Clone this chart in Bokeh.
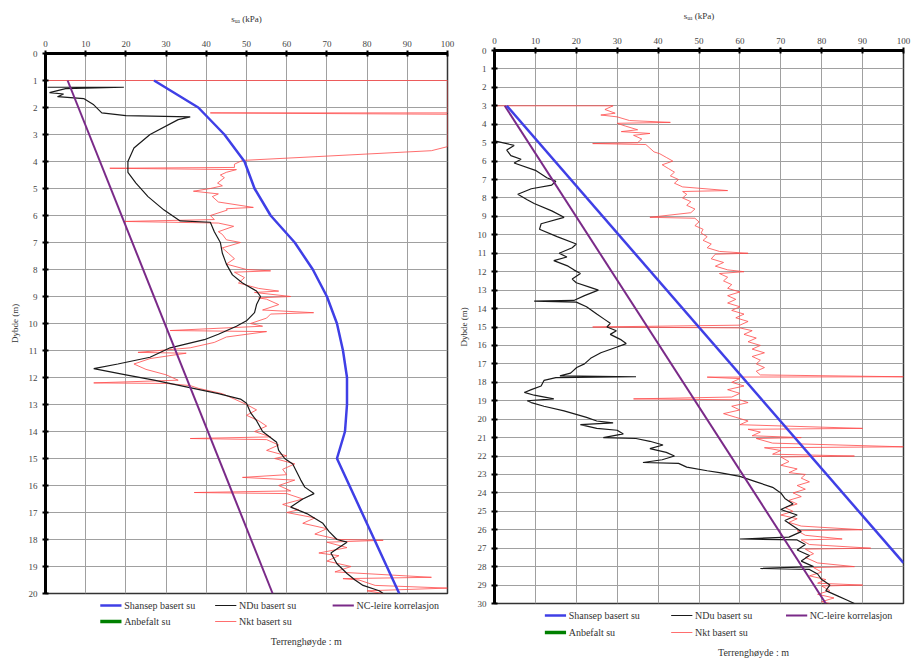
from bokeh.plotting import figure
from bokeh.models import Range1d, FixedTicker, Label
from bokeh.layouts import row, column
from bokeh.embed import file_html
from bokeh.resources import INLINE

FONT = "Liberation Serif"

# ---------------- data: left borehole (0-20 m) ----------------
x_ticks = [0, 10, 20, 30, 40, 50, 60, 70, 80, 90, 100]
depth_ticks_L = list(range(0, 21))
depth_ticks_R = list(range(0, 31))

shansep_L_depth = [1, 2, 3, 4, 5, 6, 7, 8, 9, 10, 11, 12, 13, 14, 15, 16, 17, 18, 19, 20]
shansep_L_su = [27, 38, 44.5, 49.5, 52, 56, 62, 66.5, 70, 72.5, 74, 75, 75, 74.5, 72.5, 75.6, 78.7, 81.8, 84.9, 88]

nc_L_depth = [1, 20]
nc_L_su = [5.5, 56.5]

ndu_L_depth = [1.25, 1.25, 1.3, 1.45, 1.5, 1.6, 1.67, 1.9, 2.2, 2.3, 2.35, 2.45, 3.0, 3.5, 4.0, 4.4, 4.8, 5.3, 5.8, 6.1,
               6.2, 6.25, 6.6, 7.0, 7.4, 7.8, 8.2, 8.5, 8.8, 9.0, 9.3, 9.6, 9.9, 10.1, 10.4, 10.6, 10.9, 11.25, 11.5, 11.67,
               11.9, 12.1, 12.35, 12.6, 12.8, 12.95, 13.3, 13.6, 14.0, 14.4, 14.7, 15.0, 15.2, 15.5, 15.8, 16.06, 16.3, 16.5, 16.8, 17.04,
               17.4, 17.7, 18.0, 18.1, 18.3, 18.5, 18.9, 19.26, 19.5, 19.7, 19.9, 20.0]
ndu_L_su = [0.5, 19.5, 5, 1, 4.5, 3, 9.5, 12, 14, 20, 36, 33, 26, 22, 20.5, 20.5, 22.5, 25.5, 29.5, 32.5,
            33.5, 41, 42, 43.5, 44, 45, 46.5, 49, 52.5, 53.5, 52.5, 52, 50, 47.5, 43, 39.5, 31, 26, 18, 12,
            20, 27, 35, 43, 48.5, 50, 51, 52.5, 54, 57.5, 58, 59.5, 61.5, 62.5, 63.5, 64.5, 66.8, 64, 61, 65,
            69, 70.5, 72.5, 75, 73, 71, 72.5, 75, 77, 79, 83, 84]

nkt_L_depth = [1.0, 1.0, 2.2, 2.2, 2.25, 3.45, 3.6, 3.8, 3.96, 4.1, 4.22, 4.25, 4.3, 4.4, 4.5, 4.6, 4.8, 4.9, 5.0, 5.1,
               5.2, 5.3, 5.5, 5.7, 5.75, 5.8, 6.0, 6.15, 6.22, 6.28, 6.4, 6.6, 6.7, 6.9, 7.0, 7.2, 7.4, 7.6, 7.8, 8.0,
               8.05, 8.1, 8.3, 8.5, 8.7, 8.8, 8.85, 9.0, 9.05, 9.1, 9.3, 9.5, 9.6, 9.65, 9.8, 10.0, 10.1, 10.26, 10.3, 10.5,
               10.7, 10.9, 11.07, 11.1, 11.3, 11.5, 11.7, 11.9, 12.1, 12.2, 12.22, 12.3, 12.4, 12.6, 12.8, 13.0, 13.2, 13.4, 13.6, 13.8,
               14.0, 14.2, 14.26, 14.3, 14.5, 14.7, 14.9, 15.0, 15.2, 15.4, 15.6, 15.7, 15.8, 16.0, 16.2, 16.26, 16.3, 16.5, 16.7, 16.9,
               17.0, 17.2, 17.4, 17.6, 17.8, 18.0, 18.03, 18.1, 18.3, 18.5, 18.6, 18.8, 19.0, 19.2, 19.4, 19.45, 19.5, 19.7, 19.8, 19.9,
               20.0]
nkt_L_su = [0, 100, 100, 41, 100, 100, 96, 70, 49, 47, 47, 16, 47.5, 45, 43.5, 44.5, 42.8, 44, 41, 36.8,
            43, 41.5, 43, 51.7, 45, 45.2, 41, 42, 19.5, 43, 46.8, 43, 44, 45, 48.5, 44, 45.5, 47, 45, 50,
            56, 47, 49.5, 48, 53, 58, 52, 61, 53, 55, 58, 54, 66.7, 56, 55, 51, 54, 31, 55, 45,
            42, 36, 23, 35, 26, 22, 25, 30, 33, 12, 30, 36, 38, 44, 47, 50, 52.5, 50, 53, 55,
            52, 56, 36, 55, 58, 55, 60, 57, 62, 59, 60, 49, 62, 58, 61, 37, 60, 64, 59, 63,
            60, 67, 64, 70, 67, 73, 84, 70, 75, 68, 73, 70, 76, 72, 96, 74, 78, 82, 100, 80,
            84]

# ---------------- data: right borehole (0-30 m) ----------------
shansep_R_depth = [3, 27.8]
shansep_R_su = [3, 100]

nc_R_depth = [3, 30]
nc_R_su = [2.5, 81]

ndu_R_depth = [4.9, 5.15, 5.4, 5.7, 5.9, 6.1, 6.5, 6.9, 7.1, 7.3, 7.5, 7.8, 8.1, 8.3, 8.7, 9.05, 9.4, 9.7, 10.1, 10.5,
               10.7, 11.0, 11.2, 11.4, 11.7, 11.9, 12.1, 12.4, 12.6, 12.85, 13.0, 13.3, 13.56, 13.6, 13.65, 13.9, 14.3, 14.6, 14.8, 15.0,
               15.2, 15.4, 15.7, 15.9, 16.1, 16.4, 16.7, 17.0, 17.2, 17.5, 17.65, 17.7, 17.75, 17.9, 18.2, 18.4, 18.55, 18.7, 18.9, 19.0,
               19.1, 19.3, 19.55, 19.9, 20.1, 20.2, 20.3, 20.5, 20.6, 20.8, 21.0, 21.05, 21.2, 21.4, 21.6, 21.8, 22.0, 22.2, 22.35, 22.4,
               22.6, 22.8, 22.9, 23.1, 23.4, 23.7, 24.0, 24.3, 24.6, 24.9, 25.2, 25.5, 25.8, 26.1, 26.4, 26.5, 26.55, 26.8, 27.1, 27.4,
               27.7, 28.0, 28.1, 28.15, 28.4, 28.7, 29.0, 29.3, 29.6, 29.8, 30.0]
ndu_R_su = [0, 4.8, 3, 4, 6.5, 4.8, 10, 12.8, 15, 14, 9, 5.7, 8, 9.7, 14, 17, 11.4, 11, 15.3, 20,
            19, 15.8, 17.7, 14.5, 18, 19.4, 21, 19, 20, 23.4, 25.4, 22, 19.4, 9.7, 20, 22.5, 25, 27, 28.3, 27.5,
            29.8, 28.3, 31, 32.2, 29.8, 26, 23.5, 22, 20.1, 18.6, 16, 34.6, 15, 12.1, 11.4, 9, 7.3, 9.7, 14.5, 8,
            9, 12.1, 17, 22.5, 25, 29, 21, 25, 30, 31.5, 26.6, 34.6, 38, 41.2, 38, 42, 44, 41, 36.3, 45,
            47, 52, 55, 60, 64, 68, 70, 71, 73, 70, 74, 71, 73, 75, 72, 60, 74, 76, 74, 77,
            75, 78, 65, 77, 79, 80, 82, 81, 84, 86, 88]

nkt_R_depth = [3.0, 3.0, 3.2, 3.4, 3.5, 3.6, 3.8, 3.9, 3.95, 4.1, 4.3, 4.4, 4.5, 4.6, 4.8, 5.0, 5.05, 5.1, 5.3, 5.5,
               5.6, 5.8, 6.0, 6.2, 6.4, 6.6, 6.8, 7.0, 7.2, 7.4, 7.6, 7.65, 7.8, 8.0, 8.2, 8.4, 8.6, 8.8, 9.05, 9.1,
               9.3, 9.5, 9.7, 9.9, 10.1, 10.3, 10.5, 10.7, 10.9, 11.0, 11.05, 11.3, 11.5, 11.7, 11.9, 12.0, 12.1, 12.3, 12.5, 12.7,
               12.9, 13.1, 13.3, 13.5, 13.7, 13.9, 14.1, 14.3, 14.5, 14.7, 14.9, 15.0, 15.05, 15.2, 15.4, 15.6, 15.8, 16.0, 16.2, 16.4,
               16.6, 16.8, 17.0, 17.2, 17.4, 17.6, 17.7, 17.72, 17.8, 18.0, 18.2, 18.4, 18.6, 18.8, 18.9, 18.95, 19.1, 19.3, 19.5, 19.7,
               19.9, 20.1, 20.3, 20.5, 20.55, 20.7, 20.9, 21.0, 21.05, 21.3, 21.5, 21.55, 21.7, 21.9, 22.0, 22.05, 22.3, 22.5, 22.7, 22.9,
               23.0, 23.2, 23.4, 23.6, 23.8, 24.0, 24.2, 24.4, 24.6, 24.8, 25.0, 25.2, 25.4, 25.6, 25.8, 26.0, 26.05, 26.3, 26.5, 26.55,
               26.8, 27.0, 27.05, 27.3, 27.5, 27.8, 28.0, 28.05, 28.3, 28.5, 28.7, 28.9, 29.0, 29.05, 29.3, 29.5, 29.7, 29.9, 30.0]
nkt_R_su = [0, 29, 27, 29.5, 26, 30, 33, 43, 30, 32, 35, 31, 38, 34, 36, 35, 24, 37, 38, 39,
            40.4, 42, 43.6, 41, 42.5, 44, 43, 45, 44, 46, 57, 46, 47, 46, 48, 47, 49, 48, 38, 49,
            50, 49, 51, 50.5, 52, 51, 53, 52, 55, 62, 54, 53, 56, 54, 57, 61, 55, 57, 56, 58,
            57, 60, 57, 59, 57, 60, 58, 61, 59, 62, 60, 24, 60, 63, 61, 64, 62, 65, 63, 66,
            63, 65, 64, 66, 64, 65, 100, 52, 60, 58, 61, 57, 60, 58, 34, 60, 62, 58, 60, 56,
            59, 62, 60, 90, 62, 65, 63, 75, 64, 68, 100, 66, 70, 68, 88, 70, 72, 70, 74, 72,
            76, 75, 77, 74, 76, 73, 75, 72, 74, 71, 73, 70, 74, 72, 75, 90, 74, 76, 85, 75,
            77, 92, 76, 78, 76, 79, 88, 78, 80, 77, 81, 79, 90, 80, 82, 79, 83, 80, 82]

legend_labels = ["Shansep basert su", "NDu basert su", "NC-leire korrelasjon", "Anbefalt su", "Nkt basert su"]
x_title = "s\u1d64\u2090 (kPa)"
y_title = "Dybde (m)"
foot_text = "Terrengh\u00f8yde       : m"

C_BLUE = "#3f3fe6"
C_BLACK = "#1a1a1a"
C_PURPLE = "#7a2a88"
C_GREEN = "#008000"
C_RED = "#ff4a4a"

STYLES = [(C_BLUE, 2.5, 1.0), (C_BLACK, 1.0, 1.0), (C_PURPLE, 2.0, 1.0), (C_GREEN, 3.5, 1.0), (C_RED, 1.0, 0.8)]


def plot_panel(width, height, dmax, dticks, bl, bt, br, bb, series):
    p = figure(width=width, height=height, x_range=Range1d(0, 100), y_range=Range1d(dmax, 0),
               x_axis_location="above", output_backend="svg", toolbar_location=None,
               min_border_left=bl, min_border_top=bt, min_border_right=br, min_border_bottom=bb)
    p.background_fill_color = "white"
    p.border_fill_color = "white"
    p.outline_line_color = "#333333"
    p.outline_line_width = 1.5

    p.xaxis.ticker = FixedTicker(ticks=x_ticks)
    p.yaxis.ticker = FixedTicker(ticks=dticks)
    for ax in (p.xaxis, p.yaxis):
        ax.axis_line_width = 3
        ax.axis_line_color = "black"
        ax.major_tick_in = 3
        ax.major_tick_out = 3
        ax.major_tick_line_width = 2
        ax.minor_tick_line_color = None
        ax.major_label_text_font = FONT
        ax.major_label_text_font_size = "9px"
        ax.major_label_text_color = "#444444"
        ax.axis_label_text_font = FONT
        ax.axis_label_text_font_size = "9px"
        ax.axis_label_text_font_style = "normal"
        ax.axis_label_text_color = "#333333"
    p.xaxis.major_label_standoff = 4
    p.yaxis.major_label_standoff = 5
    p.xaxis.axis_label = x_title
    p.xaxis.axis_label_standoff = 14
    p.yaxis.axis_label = y_title
    p.yaxis.axis_label_standoff = 6

    p.xgrid.grid_line_color = "#a0a0a0"
    p.ygrid.grid_line_color = "#a0a0a0"

    (sd, sv), (nd, nv), (cd, cv), (kd, kv) = series
    p.line(kv, kd, line_color=C_RED, line_width=1, line_alpha=0.8)
    p.line(nv, nd, line_color=C_BLACK, line_width=1.2)
    p.line(cv, cd, line_color=C_PURPLE, line_width=2)
    p.line(sv, sd, line_color=C_BLUE, line_width=2.5)
    return p


def legend_panel(width, height, gx, gy, foot_xy):
    # gx: glyph start x of the three columns (px), gy: y of the two rows (px)
    q = figure(width=width, height=height, x_range=Range1d(0, width), y_range=Range1d(height, 0),
               output_backend="svg", toolbar_location=None,
               min_border=0, min_border_left=0, min_border_right=0, min_border_top=0, min_border_bottom=0)
    q.axis.visible = False
    q.grid.visible = False
    q.outline_line_color = None
    q.background_fill_color = "white"
    q.border_fill_color = "white"
    slots = [(gx[0], gy[0]), (gx[1], gy[0]), (gx[2], gy[0]), (gx[0], gy[1]), (gx[1], gy[1])]
    for (x0, y0), label, (c, w, a) in zip(slots, legend_labels, STYLES):
        q.segment(x0=[x0], y0=[y0], x1=[x0 + 24], y1=[y0], line_color=c, line_width=w, line_alpha=a)
        q.add_layout(Label(x=x0 + 27, y=y0, text=label, text_font=FONT, text_font_size="10px",
                           text_baseline="middle", text_color="#333333"))
    q.add_layout(Label(x=foot_xy[0], y=foot_xy[1], text=foot_text, text_font=FONT, text_font_size="10px",
                       text_baseline="middle", text_color="#333333"))
    return q


left_plot = plot_panel(455, 600, 20, depth_ticks_L, 45, 53, 8, 7,
                       [(shansep_L_depth, shansep_L_su), (ndu_L_depth, ndu_L_su),
                        (nc_L_depth, nc_L_su), (nkt_L_depth, nkt_L_su)])
left_leg = legend_panel(455, 59, [62, 192, 325], [5, 21], (255, 41))

right_plot = plot_panel(463, 610, 30, depth_ticks_R, 35, 50, 15, 7,
                        [(shansep_R_depth, shansep_R_su), (ndu_R_depth, ndu_R_su),
                         (nc_R_depth, nc_R_su), (nkt_R_depth, nkt_R_su)])
right_leg = legend_panel(463, 49, [57, 200, 330], [5, 22], (253, 42))

layout = row(column(left_plot, left_leg, spacing=0), column(right_plot, right_leg, spacing=0), spacing=0)
open("out.html", "w").write(file_html(layout, INLINE))
